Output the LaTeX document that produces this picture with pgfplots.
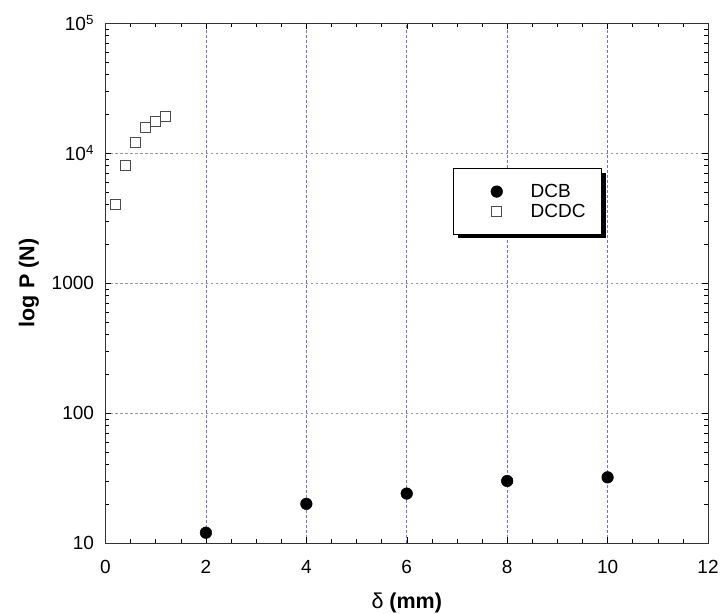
\documentclass[border=0pt]{standalone}
\usepackage{fontspec}
\setmainfont{Liberation Sans}
\usepackage{pgfplots}
\pgfplotsset{compat=1.18}
\usetikzlibrary{shadows}
\definecolor{gridblue}{RGB}{110,110,240}
\definecolor{gridgray}{RGB}{150,150,150}

\begin{document}
\begin{tikzpicture}
\useasboundingbox (-105.5pt,-70pt) rectangle (614.5pt,543pt);
\begin{axis}[
  at={(0pt,0pt)}, anchor=south west,
  scale only axis,
  width=602.5pt, height=520pt,
  xmin=0, xmax=12, ymin=10, ymax=100000,
  ymode=log,
  xtick={0,2,...,12},
  minor x tick num=3,
  ytick={10,100,1000,10000,100000},
  yticklabels={10,100,1000,10\textsuperscript{4},10\textsuperscript{5}},
  tick align=inside,
  major tick length=6pt, minor tick length=4pt,
  tick style={black, line width=0.5pt},
  axis line style={line width=0.6pt, black!80},
  /pgf/number format/assume math mode=true,
  ticklabel style={font=\fontsize{19}{22}\selectfont},
  xticklabel style={yshift=-14pt},
  yticklabel style={xshift=-8pt},
  xlabel={δ \textbf{(mm)}},
  ylabel={\textbf{log P (N)}},
  label style={font=\fontsize{21.5}{24}\selectfont},
  xlabel style={yshift=-12pt},
  ylabel style={yshift=6pt},
  xmajorgrids, ymajorgrids,
  x grid style={gridblue, dash pattern=on 2.5pt off 2.5pt, line width=0.6pt},
  y grid style={gridgray, dash pattern=on 2.5pt off 2.5pt, line width=0.5pt},
  legend style={
    at={(0.577,0.721)}, anchor=north west,
    draw=black, line width=1.2pt, fill=white,
    drop shadow={shadow xshift=4pt, shadow yshift=-4pt, fill=black, opacity=1},
    inner xsep=14pt, inner ysep=13.5pt,
    font=\fontsize{19}{20}\selectfont,
    row sep=1pt,
  },
  legend cell align=left,
  legend image code/.code={
    \pgfpathrectangle{\pgfpoint{0pt}{-1pt}}{\pgfpoint{61pt}{2pt}}\pgfusepath{discard}
    \draw[#1, only marks, line width=0.5pt] plot coordinates {(29pt,0pt)};
  },
]
\addplot[only marks, mark=*, mark size=5.8pt, black, mark options={line width=0.5pt}]
  coordinates {(2,12) (4,20) (6,24) (8,30) (10,32)};
\addplot[only marks, mark=square, mark size=5pt, black!70, mark options={line width=0.6pt}]
  coordinates {(0.2,4000) (0.4,8000) (0.6,12000) (0.8,15800) (1.0,17600) (1.2,19000)};
\legend{DCB, DCDC}
\end{axis}
\end{tikzpicture}
\end{document}
